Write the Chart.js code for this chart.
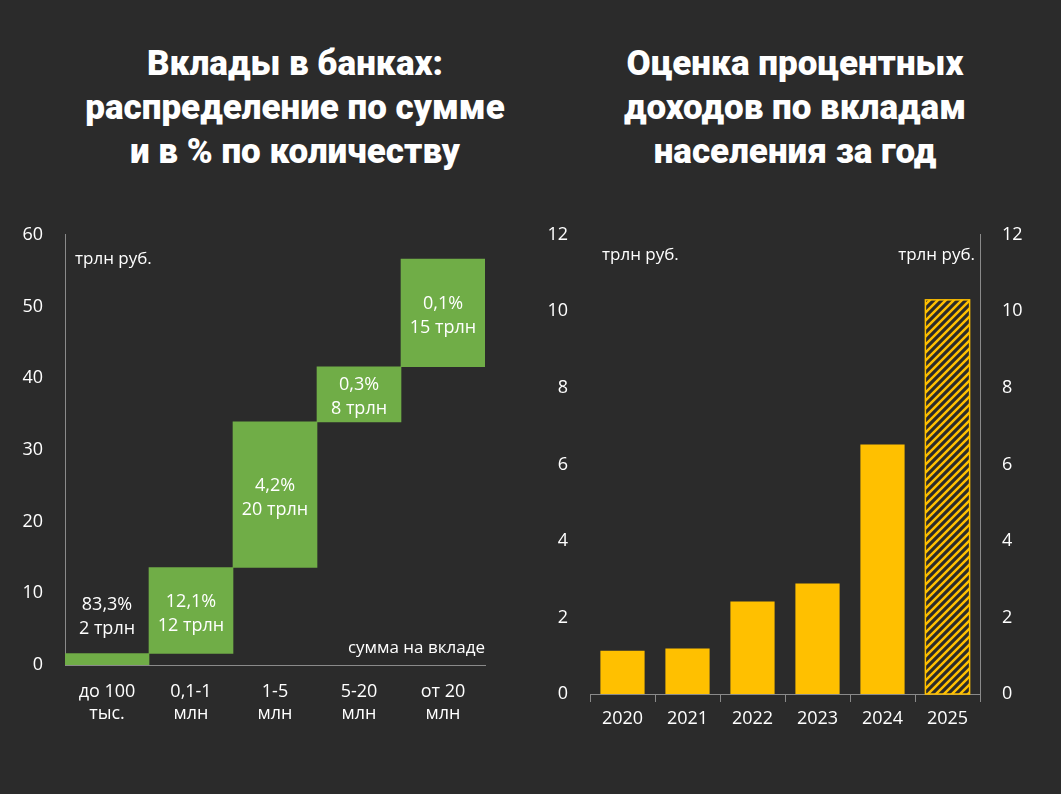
<!DOCTYPE html>
<html><head><meta charset="utf-8">
<script src="https://cdn.jsdelivr.net/npm/chart.js@4"></script>
<style>
body{margin:0;background:#2b2b2b;width:1061px;height:794px;overflow:hidden;font-family:"Open Sans",sans-serif;}
.t{position:absolute;color:#fff;font-family:Roboto,"Noto Sans",sans-serif;font-weight:900;font-size:35px;line-height:44px;text-align:center;}
.c{position:absolute;}
</style></head><body>
<div class="t" style="left:30px;top:42px;width:530px">Вклады в банках:<br>распределение по сумме<br>и в % по количеству</div>
<div class="t" style="left:545px;top:42px;width:500px">Оценка процентных<br>доходов по вкладам<br>населения за год</div>
<div class="c" style="left:20px;top:210px;width:480px;height:550px"><canvas id="a"></canvas></div>
<div class="c" style="left:540px;top:210px;width:500px;height:550px"><canvas id="b"></canvas></div>
<script>
const leftCats=[["до 100","тыс."],["0,1-1","млн"],["1-5","млн"],["5-20","млн"],["от 20","млн"]];
const leftStart=[0,1.6,13.6,33.9,41.6];
const leftEnd=[1.6,13.6,33.9,41.6,56.6];
const leftShare=["83,3%","12,1%","4,2%","0,3%","0,1%"];
const leftSum=["2 трлн","12 трлн","20 трлн","8 трлн","15 трлн"];
const rightYears=["2020","2021","2022","2023","2024","2025"];
const rightVals=[1.13,1.19,2.42,2.89,6.52,10.3];

const FONT={family:"'Open Sans',sans-serif",size:17};
const axCol='#8a8a8a';
Chart.defaults.color='#fff';
Chart.defaults.font=FONT;

const labelsPlugin={id:'lbl',afterDatasetsDraw(ch){
  const ctx=ch.ctx;ctx.save();ctx.fillStyle='#fff';ctx.font="18px 'Open Sans',sans-serif";ctx.textAlign='center';
  const meta=ch.getDatasetMeta(0);
  meta.data.forEach((b,i)=>{
    let cy;
    if(i===0){cy=b.y-40;} else cy=(b.y+b.base)/2;
    ctx.fillText(leftShare[i],b.x,cy-4);ctx.fillText(leftSum[i],b.x,cy+20);
  });
  const a=ch.chartArea;
  ctx.font="17px 'Open Sans',sans-serif";
  ctx.textAlign='left';ctx.fillText('трлн руб.',a.left+10,a.top+29);
  ctx.textAlign='right';ctx.fillText('сумма на вкладе',a.right,a.bottom-12);
  ctx.restore();
}};
new Chart(document.getElementById('a'),{
  type:'bar',
  data:{labels:leftCats,datasets:[{data:leftStart.map((s,i)=>[s,leftEnd[i]]),backgroundColor:'#70ad47',categoryPercentage:1,barPercentage:1}]},
  options:{responsive:true,maintainAspectRatio:false,animation:false,
    layout:{padding:{top:14,right:15}},
    plugins:{legend:{display:false},tooltip:{enabled:false}},
    scales:{
      x:{grid:{display:false,drawTicks:false},border:{color:axCol},ticks:{padding:16,font:{size:18}},afterFit(s){s.height=95;}},
      y:{min:0,max:60,ticks:{stepSize:10,padding:14,font:{size:18}},grid:{display:false},border:{color:axCol},afterFit(s){s.width=45;}}
    }},
  plugins:[labelsPlugin]
});

function hatch(){
  const c=document.createElement('canvas');c.width=8;c.height=8;const x=c.getContext('2d');
  x.fillStyle='#2b2b2b';x.fillRect(0,0,8,8);
  x.strokeStyle='#ffc000';x.lineWidth=2.5;
  x.beginPath();x.moveTo(0,8);x.lineTo(8,0);x.moveTo(-2,2);x.lineTo(2,-2);x.moveTo(6,10);x.lineTo(10,6);x.stroke();
  return x.createPattern(c,'repeat');
}
const rPlugin={id:'r',afterDatasetsDraw(ch){
  const ctx=ch.ctx,a=ch.chartArea;ctx.save();ctx.fillStyle='#fff';ctx.font="17px 'Open Sans',sans-serif";
  ctx.textAlign='left';ctx.fillText('трлн руб.',a.left+12,a.top+25);
  ctx.textAlign='right';ctx.fillText('трлн руб.',a.right-5,a.top+25);
  const b=ch.getDatasetMeta(0).data[5];
  ctx.strokeStyle='#ffc000';ctx.lineWidth=1.5;ctx.strokeRect(b.x-b.width/2,b.y,b.width,b.base-b.y);
  ctx.restore();
}};
new Chart(document.getElementById('b'),{
  type:'bar',
  data:{labels:rightYears,datasets:[{data:rightVals,backgroundColor:rightVals.map((v,i)=>i===5?hatch():'#ffc000'),categoryPercentage:1,barPercentage:0.68}]},
  options:{responsive:true,maintainAspectRatio:false,animation:false,
    layout:{padding:{top:18}},
    plugins:{legend:{display:false},tooltip:{enabled:false}},
    scales:{
      x:{grid:{display:true,drawOnChartArea:false,offset:true,color:axCol,tickLength:8},border:{color:axCol},ticks:{padding:6,font:{size:18}},afterFit(s){s.height=66;}},
      y:{position:'left',min:0,max:12,ticks:{stepSize:2,padding:14,font:{size:18}},grid:{display:false},border:{display:false},afterFit(s){s.width=50;}},
      y2:{position:'right',min:0,max:12,ticks:{stepSize:2,padding:14,font:{size:18}},grid:{display:false},border:{color:axCol},afterFit(s){s.width=60;}}
    }},
  plugins:[rPlugin]
});
</script></body></html>
